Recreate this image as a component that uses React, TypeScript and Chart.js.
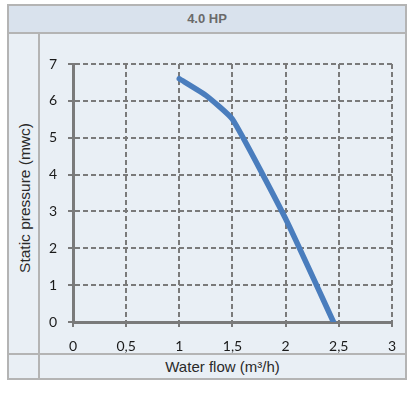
import React, { useEffect, useRef } from "react";
import { Chart, registerables } from "chart.js";

Chart.register(...registerables);

const title = "4.0 HP";
const yTitle = "Static pressure (mwc)";
const xTitle = "Water flow (m³/h)";
const flow = [1, 1.25, 1.5, 2, 2.45];
const pressure = [6.6, 6.15, 5.5, 2.8, 0];
const xTickLabels = ["0", "0,5", "1", "1,5", "2", "2,5", "3"];
const yTickLabels = ["0", "1", "2", "3", "4", "5", "6", "7"];

const BORDER = "#b4b4b4";
const CELL = "#e9eff5";
const HEAD = "#d9e2ed";
const AXIS = "#7a7a7a";

export default function App() {
  const ref = useRef<HTMLCanvasElement | null>(null);

  useEffect(() => {
    if (!ref.current) return;
    const chart = new Chart(ref.current, {
      type: "scatter",
      data: {
        datasets: [
          {
            data: flow.map((x, i) => ({ x, y: pressure[i] })),
            showLine: true,
            borderColor: "#4a7dbd",
            backgroundColor: "#4a7dbd",
            borderWidth: 5.5,
            pointRadius: 0,
            borderCapStyle: "round",
            borderJoinStyle: "round",
            tension: 0.15,
          },
        ],
      },
      options: {
        animation: false,
        responsive: false,
        maintainAspectRatio: false,
        layout: { padding: { left: 0, right: 12, top: 31, bottom: 0 } },
        plugins: { legend: { display: false }, tooltip: { enabled: false } },
        scales: {
          x: {
            type: "linear",
            min: 0,
            max: 3,
            afterFit: (s: any) => {
              s.height = 31;
            },
            ticks: {
              stepSize: 0.5,
              padding: 11,
              color: "#1a1a1a",
              font: { family: "Lato, 'Open Sans', sans-serif", size: 14 },
              maxRotation: 0,
              callback: (_v: any, i: number) => xTickLabels[i],
            },
            grid: {
              color: AXIS,
              lineWidth: 2,
              tickLength: 5,
              tickBorderDash: [0, 0],
            },
            border: { color: AXIS, width: 3, dash: [5, 3] },
          },
          y: {
            type: "linear",
            min: 0,
            max: 7,
            afterFit: (s: any) => {
              s.width = 33;
            },
            ticks: {
              stepSize: 1,
              padding: 11,
              color: "#1a1a1a",
              font: { family: "Lato, 'Open Sans', sans-serif", size: 14 },
              callback: (_v: any, i: number) => yTickLabels[i],
            },
            grid: {
              color: AXIS,
              lineWidth: 2,
              tickLength: 5,
              tickBorderDash: [0, 0],
            },
            border: { color: AXIS, width: 3, dash: [5, 3] },
          },
        },
      } as any,
    });
    return () => chart.destroy();
  }, []);

  return (
    <div
      style={{
        position: "fixed",
        left: 0,
        top: 0,
        width: 418,
        height: 395,
        background: "#ffffff",
        fontFamily: "'Liberation Sans', Arial, sans-serif",
      }}
    >
      <div
        style={{
          position: "absolute",
          left: 7,
          top: 4,
          width: 400,
          height: 376,
          border: `2px solid ${BORDER}`,
          background: CELL,
          boxSizing: "border-box",
        }}
      />
      <div
        style={{
          position: "absolute",
          left: 9,
          top: 6,
          width: 396,
          height: 26,
          background: HEAD,
          borderBottom: `2px solid ${BORDER}`,
          textAlign: "center",
          lineHeight: "26px",
          fontWeight: "bold",
          fontSize: 13,
          color: "#6a6a6a",
        }}
      >
        {title}
      </div>
      <div
        style={{
          position: "absolute",
          left: 38,
          top: 33,
          width: 2,
          height: 346,
          background: BORDER,
        }}
      />
      <div
        style={{
          position: "absolute",
          left: 9,
          top: 353,
          width: 396,
          height: 2,
          background: BORDER,
        }}
      />
      <div
        style={{
          position: "absolute",
          left: 25,
          top: 198,
          transform: "translate(-50%, -50%) rotate(-90deg)",
          whiteSpace: "nowrap",
          fontSize: 15.5,
          lineHeight: "18px",
          color: "#2a2a2a",
        }}
      >
        {yTitle}
      </div>
      <div
        style={{
          position: "absolute",
          left: 40,
          top: 355,
          width: 365,
          height: 24,
          lineHeight: "24px",
          textAlign: "center",
          fontSize: 15,
          color: "#2a2a2a",
        }}
      >
        {xTitle}
      </div>
      <canvas
        ref={ref}
        width={367}
        height={320}
        style={{ position: "absolute", left: 40, top: 33, width: 367, height: 320 }}
      />
    </div>
  );
}
